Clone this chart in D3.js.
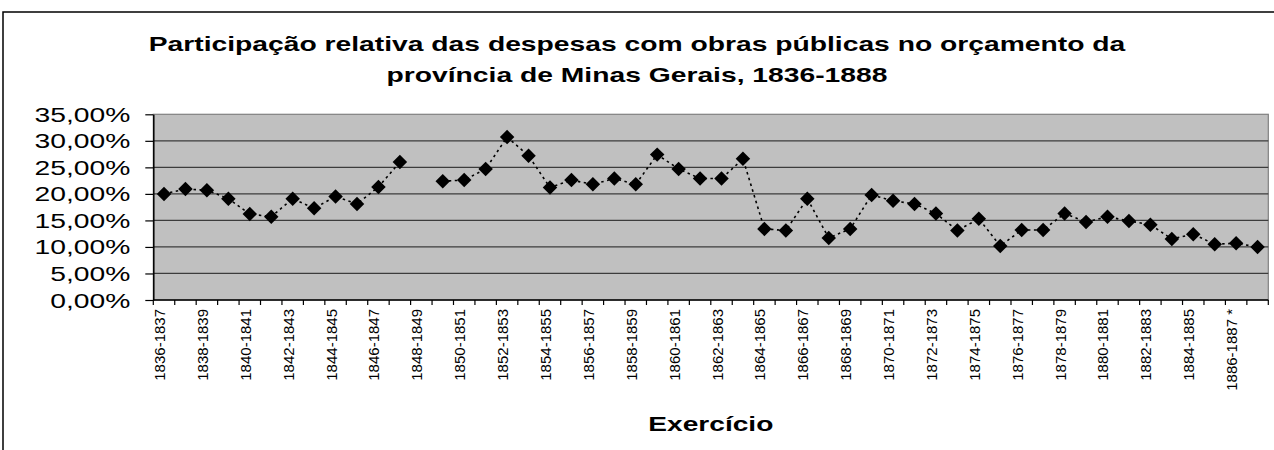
<!DOCTYPE html>
<html>
<head>
<meta charset="utf-8">
<script src="https://cdn.jsdelivr.net/npm/d3@7"></script>
<style>
  body { margin: 0; background: #fff; }
  svg { display: block; font-family: "Liberation Sans", Arial, sans-serif; }
</style>
</head>
<body>
<div id="chart"></div>
<script>
// categorias (exercícios) - rótulos exibidos a cada dois
const categories = [
  "1836-1837", "1837-1838", "1838-1839", "1839-1840", "1840-1841", "1841-1842",
  "1842-1843", "1843-1844", "1844-1845", "1845-1846", "1846-1847", "1847-1848",
  "1848-1849", "1849-1850", "1850-1851", "1851-1852", "1852-1853", "1853-1854",
  "1854-1855", "1855-1856", "1856-1857", "1857-1858", "1858-1859", "1859-1860",
  "1860-1861", "1861-1862", "1862-1863", "1863-1864", "1864-1865", "1865-1866",
  "1866-1867", "1867-1868", "1868-1869", "1869-1870", "1870-1871", "1871-1872",
  "1872-1873", "1873-1874", "1874-1875", "1875-1876", "1876-1877", "1877-1878",
  "1878-1879", "1879-1880", "1880-1881", "1881-1882", "1882-1883", "1883-1884",
  "1884-1885", "1885-1886", "1886-1887 *", "1887-1888"
];

// participação (%) - null = sem dado
const values = [
  20.0, 20.9, 20.7, 19.1, 16.2, 15.7, 19.1, 17.3, 19.5, 18.1, 21.3, 26.0,
  null, 22.4, 22.6, 24.7, 30.7, 27.2, 21.2, 22.6, 21.8, 22.9, 21.8, 27.4,
  24.7, 22.9, 22.9, 26.6, 13.4, 13.1, 19.1, 11.7, 13.4, 19.8, 18.7, 18.1,
  16.3, 13.1, 15.3, 10.2, 13.2, 13.2, 16.3, 14.7, 15.7, 14.9, 14.2, 11.5,
  12.4, 10.5, 10.7, 10.0
];

const yTicks = [0, 0.05, 0.10, 0.15, 0.20, 0.25, 0.30, 0.35];

const titleLines = [
  "Participação relativa das despesas com obras públicas no orçamento da",
  "província de Minas Gerais, 1836-1888"
];
const xTitle = "Exercício";

const width = 1274, height = 450;
const plot = { left: 153.3, right: 1268.3, top: 114.3, bottom: 300 };
const stretch = 1.45; // texto horizontal esticado como na imagem original

const data = categories.map((c, i) => ({ cat: c, v: values[i] == null ? null : values[i] / 100 }));

const ptBR = d3.formatLocale({ decimal: ",", thousands: ".", grouping: [3], currency: ["R$", ""] });
const pct = ptBR.format(".2%");

const svg = d3.select("#chart").append("svg")
  .attr("width", width)
  .attr("height", height);

// moldura do gráfico
svg.append("path")
  .attr("d", `M3,${height} L3,12 L${width},12`)
  .attr("fill", "none")
  .attr("stroke", "#000")
  .attr("stroke-width", 1.5);

const x = d3.scaleBand()
  .domain(categories)
  .range([plot.left, plot.right])
  .padding(0);

const y = d3.scaleLinear()
  .domain([0, 0.35])
  .range([plot.bottom, plot.top]);

// área de plotagem
svg.append("rect")
  .attr("x", plot.left)
  .attr("y", plot.top)
  .attr("width", plot.right - plot.left)
  .attr("height", plot.bottom - plot.top)
  .attr("fill", "#c0c0c0")
  .attr("stroke", "#808080")
  .attr("stroke-width", 1.2);

svg.append("g")
  .selectAll("line")
  .data(yTicks.filter(t => t > 0 && t < 0.35))
  .join("line")
  .attr("x1", plot.left)
  .attr("x2", plot.right)
  .attr("y1", d => y(d))
  .attr("y2", d => y(d))
  .attr("stroke", "#3c3c3c")
  .attr("stroke-width", 1.3);

// eixo Y
const yAxis = svg.append("g")
  .attr("transform", `translate(${plot.left},0)`)
  .call(d3.axisLeft(y).tickValues(yTicks).tickFormat(pct).tickSize(8).tickSizeOuter(0));
yAxis.select(".domain").attr("stroke", "#000").attr("stroke-width", 1.5);
yAxis.selectAll(".tick line").attr("stroke", "#000").attr("stroke-width", 1.2);
yAxis.selectAll(".tick text")
  .attr("x", 0)
  .attr("dy", "0.36em")
  .attr("transform", `translate(-23,0) scale(${stretch},1)`)
  .attr("font-size", 19.5)
  .attr("font-family", "'Liberation Sans', Arial, sans-serif")
  .attr("fill", "#000");

// eixo X
svg.append("line")
  .attr("x1", plot.left).attr("x2", plot.right)
  .attr("y1", plot.bottom).attr("y2", plot.bottom)
  .attr("stroke", "#000").attr("stroke-width", 1.5);

const bounds = categories.map(c => x(c)).concat([plot.right]);
svg.append("g")
  .selectAll("line")
  .data(bounds)
  .join("line")
  .attr("x1", d => d).attr("x2", d => d)
  .attr("y1", plot.bottom).attr("y2", plot.bottom + 5)
  .attr("stroke", "#000").attr("stroke-width", 1.2);

svg.append("g")
  .selectAll("text")
  .data(categories.filter((c, i) => i % 2 === 0))
  .join("text")
  .attr("transform", d => `translate(${x(d) + x.bandwidth() / 2 + 1},309) rotate(-90)`)
  .attr("text-anchor", "end")
  .attr("font-size", 15)
  .attr("fill", "#000")
  .text(d => d);

// série
const line = d3.line()
  .defined(d => d.v != null)
  .x(d => x(d.cat) + x.bandwidth() / 2)
  .y(d => y(d.v));

svg.append("path")
  .datum(data)
  .attr("d", line)
  .attr("fill", "none")
  .attr("stroke", "#000")
  .attr("stroke-width", 1.6)
  .attr("stroke-dasharray", "2.5,3.5");

const diamond = d3.symbol(d3.symbolSquare, 105);
svg.append("g")
  .selectAll("path")
  .data(data.filter(d => d.v != null))
  .join("path")
  .attr("d", diamond)
  .attr("transform", d => `translate(${x(d.cat) + x.bandwidth() / 2},${y(d.v)}) rotate(45)`)
  .attr("fill", "#000");

// títulos
svg.append("g")
  .selectAll("text")
  .data(titleLines)
  .join("text")
  .attr("transform", (d, i) => `translate(637,${51 + i * 31}) scale(${stretch},1)`)
  .attr("text-anchor", "middle")
  .attr("font-size", 19.5)
  .attr("font-weight", "bold")
  .attr("fill", "#000")
  .text(d => d);

svg.append("text")
  .attr("transform", `translate(${(plot.left + plot.right) / 2},431) scale(${stretch},1)`)
  .attr("text-anchor", "middle")
  .attr("font-size", 19.4)
  .attr("font-weight", "bold")
  .attr("fill", "#000")
  .text(xTitle);
</script>
</body>
</html>
